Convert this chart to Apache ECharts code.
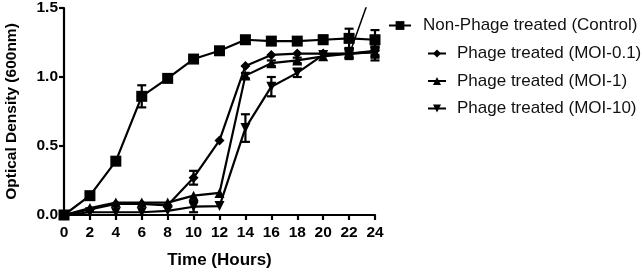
<!DOCTYPE html>
<html><head><meta charset="utf-8">
<script src="https://cdn.jsdelivr.net/npm/echarts@6/dist/echarts.min.js"></script>
<style>html,body{margin:0;padding:0;background:#fff}#c{width:644px;height:271px}</style>
</head><body><div id="c"></div>
<script>
const hours = [0,2,4,6,8,10,12,14,16,18,20,22,24];
const control = [0,0.14,0.39,0.86,0.99,1.13,1.19,1.27,1.26,1.26,1.27,1.28,1.27];
const controlErr = [0,0.02,0.01,0.08,0.01,0.02,0.01,0.02,0.02,0.02,0.03,0.07,0.07];
const moi01 = [0,0.04,0.08,0.08,0.07,0.27,0.54,1.08,1.16,1.17,1.17,1.17,1.19];
const moi01Err = [0,0.01,0.01,0.01,0.01,0.05,0.01,0.01,0.01,0.01,0.01,0.02,0.03];
const moi1 = [0,0.05,0.09,0.09,0.09,0.14,0.16,1.01,1.10,1.12,1.15,1.17,1.18];
const moi1Err = [0,0.01,0.01,0.01,0.01,0.01,0.01,0.02,0.02,0.02,0.01,0.03,0.04];
const moi10 = [0,0.02,0.02,0.02,0.03,0.06,0.065,0.63,0.93,1.03,1.16,1.17,1.18];
const moi10Err = [0,0.01,0.01,0.01,0.01,0.04,0.01,0.1,0.07,0.03,0.01,0.04,0.06];
const seriesNames = ['Non-Phage treated (Control)','Phage treated (MOI-0.1)','Phage treated (MOI-1)','Phage treated (MOI-10)'];
const artifactLine = [[22,1.16],[23.6,1.58]];

const chart = echarts.init(document.getElementById('c'));
const pairs = (ys) => hours.map((h,i)=>[h,ys[i]]);
const errData = (ys,es) => hours.map((h,i)=>[h,ys[i]-es[i],ys[i]+es[i]]).filter(d=>d[2]-d[1]>0.03);
function errSeries(ys,es){
  return {type:'custom',silent:true,z:3,data:errData(ys,es),
    renderItem:function(params,api){
      const lo=api.coord([api.value(0),api.value(1)]);
      const hi=api.coord([api.value(0),api.value(2)]);
      const w=4.5;
      const st={stroke:'#000',lineWidth:2.2};
      return {type:'group',children:[
        {type:'line',shape:{x1:lo[0],y1:lo[1],x2:hi[0],y2:hi[1]},style:st},
        {type:'line',shape:{x1:lo[0]-w,y1:lo[1],x2:lo[0]+w,y2:lo[1]},style:st},
        {type:'line',shape:{x1:hi[0]-w,y1:hi[1],x2:hi[0]+w,y2:hi[1]},style:st}
      ]};
    }};
}
const lineStyle={color:'#000',width:2.2};
const font='Liberation Sans, Arial, sans-serif';
const bold={fontFamily:font,fontWeight:'bold',color:'#000'};
const legText={fontFamily:font,fontSize:17,color:'#111'};
chart.setOption({
  animation:false,
  grid:{left:64,right:269,top:8,bottom:56,containLabel:false,outerBoundsMode:'none'},
  legend:[
    {orient:'vertical',left:383,top:12,itemWidth:22,itemHeight:11,itemGap:10,
     data:[seriesNames[0]],textStyle:Object.assign({padding:[0,0,0,7]},legText)},
    {orient:'vertical',left:422,top:40,itemWidth:18,itemHeight:10,itemGap:10.5,
     data:seriesNames.slice(1),textStyle:Object.assign({padding:[0,0,0,6]},legText)}
  ],
  xAxis:{type:'value',min:0,max:24,interval:2,name:'Time (Hours)',nameLocation:'middle',nameGap:37,
    nameTextStyle:Object.assign({fontSize:17},bold),
    axisLine:{lineStyle:{color:'#000',width:2.2}},axisTick:{length:5,lineStyle:{color:'#000',width:2.2}},
    axisLabel:Object.assign({fontSize:15.5,margin:10},bold),splitLine:{show:false}},
  yAxis:{type:'value',min:0,max:1.5,interval:0.5,name:'Optical Density (600nm)',nameLocation:'middle',nameGap:44,
    nameTextStyle:Object.assign({fontSize:15.5},bold),
    axisLine:{show:true,lineStyle:{color:'#000',width:2.2}},axisTick:{show:true,length:5,lineStyle:{color:'#000',width:2.2}},
    axisLabel:Object.assign({fontSize:15.5,margin:6,formatter:v=>v.toFixed(1)},bold),splitLine:{show:false}},
  series:[
    {name:seriesNames[0],type:'line',data:pairs(control),symbol:'rect',symbolSize:11,lineStyle,itemStyle:{color:'#000'},z:4},
    {name:seriesNames[1],type:'line',data:pairs(moi01),symbol:'diamond',symbolSize:10,lineStyle,itemStyle:{color:'#000'},z:4},
    {name:seriesNames[2],type:'line',data:pairs(moi1),symbol:'triangle',symbolSize:10,lineStyle,itemStyle:{color:'#000'},z:4},
    {name:seriesNames[3],type:'line',data:pairs(moi10),symbol:'triangle',symbolRotate:180,symbolSize:10,lineStyle,itemStyle:{color:'#000'},z:4},
    errSeries(control,controlErr),errSeries(moi01,moi01Err),errSeries(moi1,moi1Err),errSeries(moi10,moi10Err),
    {type:'line',data:artifactLine,symbol:'none',lineStyle:{color:'#000',width:1.5},silent:true,clip:true}
  ]
});
</script></body></html>
